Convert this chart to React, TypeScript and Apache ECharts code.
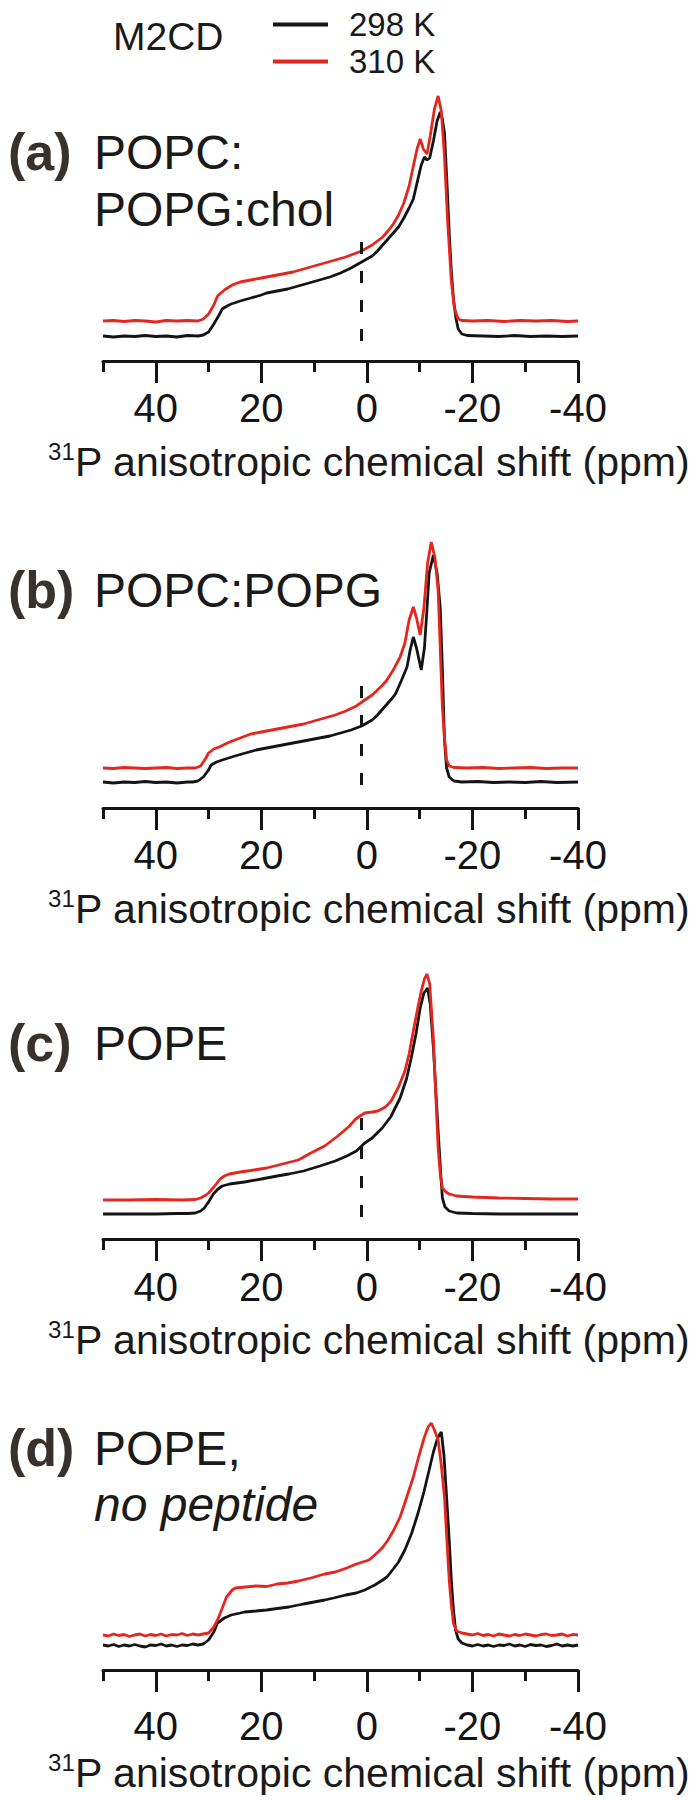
import React, { useEffect, useRef } from "react";
import * as echarts from "echarts";

// ---------------- data ----------------
const shiftMin = -40;
const shiftMax = 50;
const majorTicks = [40, 20, 0, -20, -40];
const minorTicks = [50, 30, 10, -10, -30];
const temperatureNames = ["298 K", "310 K"];
const peptideName = "M2CD";
const panelLetters = ["(a)", "(b)", "(c)", "(d)"];
const sampleA = ["POPC:", "POPG:chol"];
const sampleB = ["POPC:POPG"];
const sampleC = ["POPE"];
const sampleD = ["POPE,", "no peptide"];
const axisTitleSup = "31";
const axisTitleMain = "P anisotropic chemical shift (ppm)";
const isotropicShift = 1;
// dashed marker extent (intensity units) for panels a, b, c
const dashA = [20, 119];
const dashB = [23, 123];
const dashC = [22, 126];

// intensity (arbitrary units) vs chemical shift (ppm)
const a298 = [[50,25],[48,24],[46,25],[44,24.5],[42,25.5],[40,24.5],[38,25],[36,24],[34,25.5],[32,25],[31,26],[30,29],[29,37],[28,46],[27.4,52],[26.5,55],[25.7,57],[24,60],[22,63],[20,66],[19,68],[17,70],[15,72],[13,75],[11,78],[9,81],[7,84],[5,88],[3,93],[2,96],[1,99],[0,102],[-1,105],[-2,110],[-3,116],[-4,122],[-5,128],[-6,134],[-7,143],[-8,153],[-8.8,162],[-9.5,178],[-10.3,196],[-10.9,204],[-11.4,201],[-11.9,203],[-12.6,220],[-13.3,240],[-13.9,249],[-14.3,242],[-14.7,228],[-15.2,175],[-15.6,128],[-16,90],[-16.4,62],[-16.9,42],[-17.3,32],[-18,27],[-19,25.5],[-22,25],[-25,24.5],[-28,25.5],[-31,24.5],[-34,25],[-37,24.5],[-40,25]];
const a310 = [[50,40],[48,40.5],[46,39.5],[44,40.5],[42,40],[40,39],[38,40.5],[36,40],[34,40.5],[32,40],[31,42],[30,47],[29,56],[28.3,65],[27,71],[25.5,76],[24,79],[22,81],[20,83],[18,85],[16,87],[14,89],[12,92],[10,95],[8,98],[6,101],[4,104],[2,108],[1,110],[0,113],[-1,116],[-2,120],[-3,124],[-4,130],[-5,137],[-6,146],[-7,158],[-8,175],[-8.8,195],[-9.5,212],[-10.1,222],[-10.7,212],[-11.4,207],[-12,225],[-12.8,252],[-13.5,265],[-14.1,250],[-14.7,205],[-15.3,140],[-16,80],[-16.6,52],[-17.3,42],[-18,40.5],[-20,40],[-23,40.5],[-26,39.5],[-29,40.5],[-32,40],[-35,40.5],[-38,39.5],[-40,40]];
const b298 = [[50,26],[48,25],[46,26],[44,25.5],[42,26.5],[40,25.5],[38,26],[36,25],[34,26],[33,26],[32,27],[31,31],[30,38],[29.5,43],[28.5,46],[27.4,48],[25,52],[23,55],[21,58],[19,60],[17,62],[15,64],[13,66],[11,68],[9,70],[7,72],[5,75],[3,78],[2,80],[1,82],[0,85],[-1,88],[-2,93],[-3,99],[-4,105],[-5,111],[-5.5,115],[-6.5,127],[-7.6,141],[-8.2,158],[-8.8,171],[-9.4,160],[-10.3,138],[-10.9,160],[-11.4,200],[-11.8,235],[-12.6,253],[-13.3,235],[-13.9,200],[-14.3,140],[-14.7,68],[-15.1,40],[-15.6,31],[-16.5,27],[-18,26],[-21,26.5],[-24,25.5],[-27,26],[-30,25.5],[-33,26.5],[-36,25.5],[-40,26]];
const b310 = [[50,40],[48,39.5],[46,40.5],[44,40],[42,39.5],[40,40],[38,40.5],[36,39.5],[34,40],[32.5,40],[31.5,42],[30.5,50],[30,55],[29,59],[28,61],[26,66],[24,70],[22,74],[20,76],[18,78],[16,80],[14,82],[12,84],[10,87],[8,90],[6,93],[4,97],[2,102],[0.4,108],[-1,113],[-2,118],[-3,123],[-3.8,128],[-5,138],[-6.3,151],[-7.2,165],[-8,188],[-8.8,201],[-9.4,190],[-10.1,173],[-10.8,200],[-11.5,245],[-12.2,266],[-12.9,250],[-13.5,218],[-14.3,101],[-14.7,70],[-15.1,48],[-15.6,42],[-16.5,40.5],[-19,40],[-22,40.5],[-25,39.5],[-28,40],[-31,40.5],[-34,39.5],[-37,40],[-40,40]];
const c298 = [[50,25],[45,25],[40,25],[36,25.5],[34,25.5],[32.5,26],[31.5,28],[30.8,31],[30,37],[29.1,45],[28.2,50],[27.4,53],[26,55],[23.2,57],[20,60],[17,63],[14.8,65],[12,68],[8.9,73],[6,78],[3.8,83],[2,88],[0.4,96],[-1,101],[-2.9,111],[-4.5,122],[-6.3,141],[-7.5,160],[-8.4,181],[-9.3,205],[-10.1,231],[-10.8,246],[-11.5,251],[-12,235],[-12.6,191],[-13.1,145],[-13.5,108],[-14,65],[-14.3,41],[-14.8,32],[-15.6,28],[-17,26],[-20,25.5],[-25,25],[-30,25],[-35,25],[-40,25]];
const c310 = [[50,39],[45,39],[40,39.5],[35,39],[32.5,39.5],[31.5,41],[30.5,44],[30,46],[29,52],[27.8,60],[27,63],[26.1,65],[24,67],[22,68.5],[19,71],[16,75],[13,79],[10.6,86],[8,93],[5.5,103],[3.5,112],[2.1,120],[1,124],[0.4,126],[-1,127],[-2.1,128],[-3.5,132],[-4.6,138],[-6,152],[-7.2,168],[-8,185],[-8.8,208],[-9.6,230],[-10.3,248],[-10.9,260],[-11.4,265],[-11.9,255],[-12.6,200],[-13,150],[-13.5,91],[-13.9,65],[-14.3,51],[-15,47],[-15.6,45],[-17,43],[-20,42],[-25,41],[-30,40.5],[-35,40],[-40,40]];
const d298 = [[50,25],[49,24],[48,25.5],[47,23.5],[46,25],[45,24],[44,25.5],[43,24],[42,23],[41,25],[40,24.5],[39,26],[38,24],[37,25],[36,23.5],[35,25],[34,24.5],[33,26],[32,25],[31,26],[30,30],[29,38],[28.3,47],[27,52],[25.7,55],[24,57],[23.2,58],[21,59],[19,60],[17,61.5],[14.8,63],[12,66],[10,68],[8,70],[6.3,72],[4,75],[2,77],[0.4,80],[-1.5,85],[-3,90],[-3.8,93],[-5,101],[-6,108],[-7.2,120],[-8.5,137],[-9.7,157],[-10.8,178],[-11.8,200],[-12.6,218],[-13.4,232],[-14.1,238],[-14.6,215],[-15.1,173],[-15.6,130],[-16,90],[-16.4,60],[-16.8,40],[-17.3,31],[-18,27],[-19,25],[-20,24],[-21,25.5],[-22,24],[-23,25],[-24,23.5],[-25,25],[-26,24.5],[-27,26],[-28,24],[-29,25],[-30,23.5],[-31,25.5],[-32,24.5],[-33,25],[-34,23.5],[-35,24.5],[-36,26],[-37,24],[-38,25],[-39,24],[-40,25]];
const d310 = [[50,35],[49,34],[48,36],[47,34.5],[46,35.5],[45,33.5],[44,35],[43,36],[42,34],[41,35.5],[40,34.5],[39,36],[38,34],[37,35.5],[36,35],[35,36.5],[34,34.5],[33,36],[32,35],[31,36],[30,37],[29,43],[28.3,50],[27.4,62],[26.6,73],[25.5,80],[24.9,82],[23,83],[21,84],[19,83.5],[17,86],[15,87],[13,89],[10.6,92],[8,96],[6,98],[3.8,102],[2,106],[-0.4,110],[-1.5,115],[-2.9,122],[-4,130],[-5,139],[-6.3,153],[-7.5,172],[-8.8,193],[-9.8,213],[-10.9,233],[-11.6,243],[-12.2,247],[-12.8,240],[-13.5,230],[-14.1,205],[-14.7,173],[-15.1,135],[-15.6,90],[-16,65],[-16.4,47],[-17,39],[-18,37],[-19,36],[-20,35],[-21,36.5],[-22,34.5],[-23,35.5],[-24,34],[-25,36],[-26,35],[-27,34],[-28,35.5],[-29,34.5],[-30,36],[-31,35],[-32,34],[-33,35.5],[-34,36],[-35,34.5],[-36,35],[-37,36],[-38,34],[-39,35.5],[-40,35]];

// ---------------- layout / style ----------------
const W = 696;
const H = 1800;
const FONT = "'Liberation Sans', Arial, Helvetica, sans-serif";
const BLACK = "#141414";
const RED = "#e5261e";
const plotLeft = 103;
const plotRight = 578;
const plotHeight = 290;
const axisYs = [361, 808, 1239, 1670];
const labelMargins = [27, 27, 28, 36];
const titleYs = [462, 909, 1340, 1773];
const sampleTextYs = [[152, 209], [590], [1043], [1448, 1504]];

export default function App() {
  const ref = useRef<HTMLDivElement>(null);

  useEffect(() => {
    document.body.style.margin = "0";
    const chart = echarts.init(ref.current as HTMLDivElement, undefined, { renderer: "svg" });

    const panels = [
      { s298: a298, s310: a310, dash: dashA, sample: sampleA },
      { s298: b298, s310: b310, dash: dashB, sample: sampleB },
      { s298: c298, s310: c310, dash: dashC, sample: sampleC },
      { s298: d298, s310: d310, dash: null as number[] | null, sample: sampleD },
    ];

    const grid: any[] = [];
    const xAxis: any[] = [];
    const yAxis: any[] = [];
    const series: any[] = [];
    const graphic: any[] = [];

    panels.forEach((p, i) => {
      grid.push({
        left: plotLeft,
        width: plotRight - plotLeft,
        top: axisYs[i] - plotHeight,
        height: plotHeight,
      });
      // major axis: line, long ticks, labels
      xAxis.push({
        type: "value",
        gridIndex: i,
        position: "bottom",
        min: shiftMin,
        max: shiftMax,
        interval: 20,
        inverse: true,
        splitLine: { show: false },
        axisLine: { show: true, lineStyle: { color: BLACK, width: 3 } },
        axisTick: {
          show: true,
          length: 22,
          customValues: majorTicks,
          lineStyle: { color: BLACK, width: 3 },
        },
        axisLabel: {
          show: true,
          customValues: majorTicks,
          margin: labelMargins[i],
          fontSize: 40,
          lineHeight: 40,
          fontFamily: FONT,
          color: BLACK,
        },
      });
      // minor axis: short ticks only
      xAxis.push({
        type: "value",
        gridIndex: i,
        position: "bottom",
        min: shiftMin,
        max: shiftMax,
        interval: 10,
        inverse: true,
        splitLine: { show: false },
        axisLine: { show: false },
        axisTick: {
          show: true,
          length: 11,
          customValues: minorTicks,
          lineStyle: { color: BLACK, width: 3 },
        },
        axisLabel: { show: false },
      });
      yAxis.push({
        type: "value",
        gridIndex: i,
        min: 0,
        max: plotHeight,
        show: false,
      });

      const blackSeries: any = {
        name: temperatureNames[0],
        type: "line",
        xAxisIndex: i * 2,
        yAxisIndex: i,
        data: p.s298,
        showSymbol: false,
        symbol: "none",
        color: BLACK,
        lineStyle: { color: BLACK, width: 2.8 },
        z: 3,
      };
      if (p.dash) {
        blackSeries.markLine = {
          silent: true,
          symbol: "none",
          label: { show: false },
          lineStyle: { color: BLACK, width: 3, type: [12, 17] },
          data: [[{ coord: [isotropicShift, p.dash[0]] }, { coord: [isotropicShift, p.dash[1]] }]],
        };
      }
      series.push(blackSeries);
      series.push({
        name: temperatureNames[1],
        type: "line",
        xAxisIndex: i * 2,
        yAxisIndex: i,
        data: p.s310,
        showSymbol: false,
        symbol: "none",
        color: RED,
        lineStyle: { color: RED, width: 2.8 },
        z: 4,
      });

      // panel letter
      graphic.push({
        type: "text",
        x: 8,
        y: sampleTextYs[i][0],
        style: {
          text: panelLetters[i],
          font: `bold 52px ${FONT}`,
          fill: "#38322f",
          textVerticalAlign: "middle",
        },
      });
      p.sample.forEach((t, k) => {
        const italic = i === 3 && k === 1;
        graphic.push({
          type: "text",
          x: 94,
          y: sampleTextYs[i][k],
          style: {
            text: t,
            font: `${italic ? "italic " : ""}48px ${FONT}`,
            fill: "#1a1a1a",
            textVerticalAlign: "middle",
          },
        });
      });
      // axis title
      graphic.push({
        type: "text",
        x: 369,
        y: titleYs[i],
        style: {
          text: `{sup|${axisTitleSup}}{main|${axisTitleMain}}`,
          textAlign: "center",
          textVerticalAlign: "middle",
          rich: {
            sup: { fontSize: 24, fontFamily: FONT, fill: "#1a1a1a", verticalAlign: "top", lineHeight: 26 },
            main: { fontSize: 41, fontFamily: FONT, fill: "#1a1a1a", lineHeight: 46 },
          },
        },
      });
    });

    graphic.push({
      type: "text",
      x: 113,
      y: 36,
      style: {
        text: peptideName,
        font: `39px ${FONT}`,
        fill: "#1a1a1a",
        textVerticalAlign: "middle",
      },
    });

    chart.setOption({
      animation: false,
      backgroundColor: "#ffffff",
      legend: {
        data: temperatureNames,
        orient: "vertical",
        left: 268,
        top: 1,
        icon: "rect",
        itemWidth: 55,
        itemHeight: 4,
        itemGap: 0,
        selectedMode: false,
        textStyle: {
          fontSize: 33,
          lineHeight: 37,
          fontFamily: FONT,
          color: "#1a1a1a",
          padding: [0, 0, 0, 16],
        },
      },
      grid,
      xAxis,
      yAxis,
      series,
      graphic,
    });

    return () => chart.dispose();
  }, []);

  return <div ref={ref} style={{ width: W, height: H }} />;
}
